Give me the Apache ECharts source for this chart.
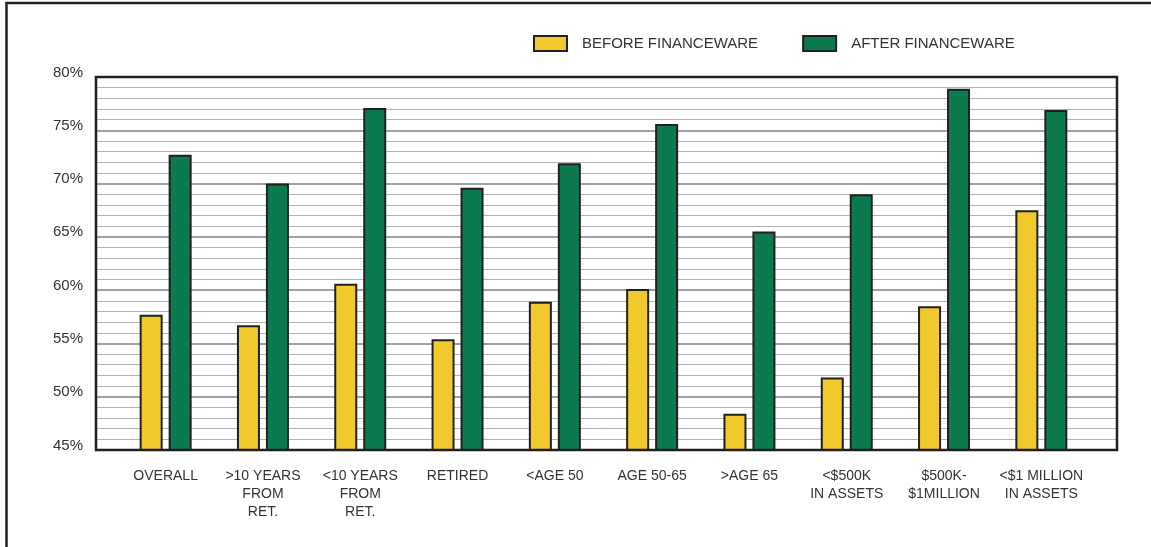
<!DOCTYPE html>
<html>
<head>
<meta charset="utf-8">
<script src="https://cdn.jsdelivr.net/npm/echarts@6/dist/echarts.min.js"></script>
<style>
html,body{margin:0;padding:0;background:#fff;}
#chart{width:1151px;height:547px;}
</style>
</head>
<body>
<div id="chart"></div>
<script>
const categories = ['OVERALL', '>10 YEARS\nFROM\nRET.', '<10 YEARS\nFROM\nRET.', 'RETIRED', '<AGE 50', 'AGE 50-65', '>AGE 65', '<$500K\nIN ASSETS', '$500K-\n$1MILLION', '<$1 MILLION\nIN ASSETS'];
const seriesNames = ['BEFORE FINANCEWARE', 'AFTER FINANCEWARE'];
const beforeValues = [57.7, 56.7, 60.6, 55.4, 58.9, 60.1, 48.4, 51.8, 58.5, 67.5];
const afterValues = [72.7, 70.0, 77.1, 69.6, 71.9, 75.6, 65.5, 69.0, 78.9, 76.9];
const yMin = 45, yMax = 80, yStep = 5;

const FONT = "'Liberation Sans', Arial, Helvetica, sans-serif";
const DARK = '#231f20';
const TEXT = '#333333';
const YELLOW = '#f0c92c';
const GREEN = '#0b7a4e';

const W = 1151, H = 547;
const plotL = 96, plotR = 1117, plotT = 77, plotB = 450;
const barL = 117, barR = 1090;

const chart = echarts.init(document.getElementById('chart'), null, {renderer: 'canvas'});
chart.setOption({
  animation: false,
  backgroundColor: '#ffffff',
  legend: {
    data: seriesNames,
    left: 528,
    top: 30,
    itemWidth: 33,
    itemHeight: 15,
    itemGap: 44,
    icon: 'rect',
    itemStyle: {borderColor: DARK, borderWidth: 2},
    textStyle: {fontFamily: FONT, fontSize: 15, color: TEXT, padding: [0, 0, 0, 10]}
  },
  grid: [
    {left: plotL, right: W - plotR, top: plotT, bottom: H - plotB},
    {left: barL, right: W - barR, top: plotT, bottom: H - plotB}
  ],
  xAxis: [
    {gridIndex: 0, type: 'value', min: 0, max: 1, show: false},
    {
      gridIndex: 1, type: 'category', data: categories,
      axisLine: {show: false}, axisTick: {show: false},
      axisLabel: {fontFamily: FONT, fontSize: 14, color: TEXT, lineHeight: 18, margin: 17, interval: 0}
    }
  ],
  yAxis: [
    {
      gridIndex: 0, type: 'value', min: yMin, max: yMax, interval: yStep,
      axisLine: {show: false}, axisTick: {show: false},
      axisLabel: {fontFamily: FONT, fontSize: 15, color: TEXT, margin: 13, formatter: '{value}%', verticalAlign: 'bottom', lineHeight: 9},
      splitLine: {show: true, lineStyle: {color: '#9da1a6', width: 2}},
      minorTick: {show: false, splitNumber: 5},
      minorSplitLine: {show: true, lineStyle: {color: '#aeb2b6', width: 1}}
    },
    {gridIndex: 1, type: 'value', min: yMin, max: yMax, show: false}
  ],
  series: [
    {
      name: seriesNames[0], type: 'bar', xAxisIndex: 1, yAxisIndex: 1,
      data: beforeValues, barWidth: 23, barGap: '26%',
      itemStyle: {color: YELLOW, borderColor: DARK, borderWidth: 2}
    },
    {
      name: seriesNames[1], type: 'bar', xAxisIndex: 1, yAxisIndex: 1,
      data: afterValues, barWidth: 23, barGap: '26%',
      itemStyle: {color: GREEN, borderColor: DARK, borderWidth: 2}
    }
  ],
  graphic: [
    {type: 'rect', z: 100, silent: true,
     shape: {x: plotL, y: plotT, width: plotR - plotL, height: plotB - plotT},
     style: {fill: null, stroke: DARK, lineWidth: 2.5}},
    {type: 'line', z: 100, silent: true,
     shape: {x1: 5.5, y1: 3, x2: W, y2: 3}, style: {stroke: DARK, lineWidth: 2.5}},
    {type: 'line', z: 100, silent: true,
     shape: {x1: 6.5, y1: 2, x2: 6.5, y2: H}, style: {stroke: DARK, lineWidth: 2.5}}
  ]
});
</script>
</body>
</html>
